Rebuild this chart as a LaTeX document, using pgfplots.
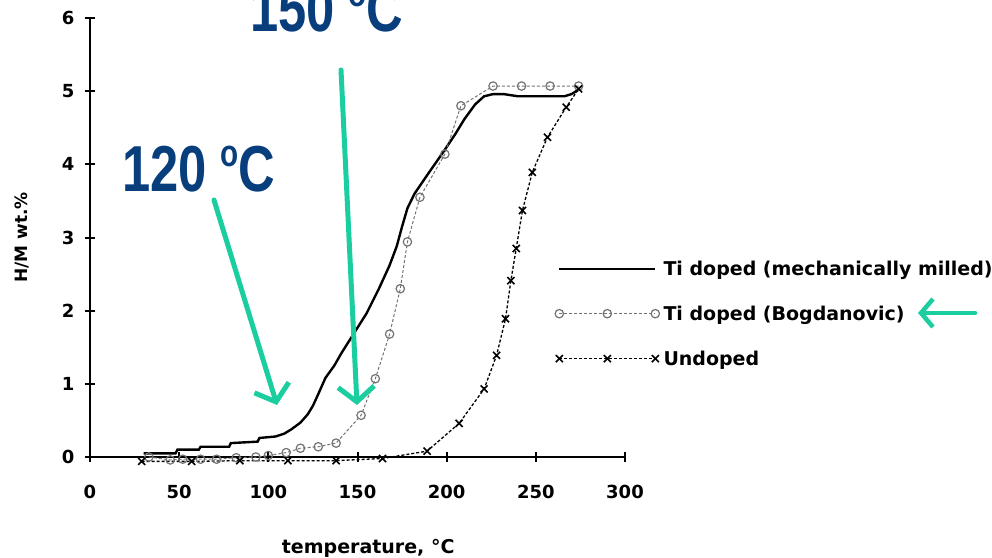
\documentclass[border=0pt]{standalone}
\usepackage{pgfplots}
\pgfplotsset{compat=1.18}
\usepackage{fontspec}
\setmainfont{DejaVu Sans}
\newfontfamily\annfont{Liberation Sans}
\usetikzlibrary{arrows.meta}
\definecolor{ann}{RGB}{8,62,124}
\definecolor{tealarrow}{RGB}{26,206,160}
\pgfplotsset{
  threemark legend/.style={legend image code/.code={\draw[##1] plot coordinates {(0pt,0pt) (48pt,0pt) (96pt,0pt)};}},
  plain legend/.style={legend image code/.code={\draw[##1] (0pt,0pt) -- (96pt,0pt);}},
}
\newcommand{\degsup}{\raisebox{25pt}{\fontsize{38}{40}\selectfont o}}
\begin{document}
\begin{tikzpicture}
\useasboundingbox (0,0) rectangle (992pt,557pt);
\begin{axis}[
  at={(90pt,100pt)}, anchor=south west,
  scale only axis, width=535pt, height=439pt,
  xmin=0, xmax=300, ymin=0, ymax=6,
  clip=false,
  axis x line=bottom, axis y line=left,
  axis line style={-, line width=2.2pt},
  xtick={0,50,...,300}, ytick={0,1,...,6},
  tick align=center, major tick length=10pt,
  every tick/.style={black, line width=2pt},
  /pgf/number format/assume math mode=true,
  tick label style={font=\fontsize{18}{20}\selectfont\bfseries},
  xticklabel style={yshift=-20pt},
  yticklabel style={xshift=-7pt},
  xlabel={temperature, \textdegree C},
  xlabel style={at={(axis description cs:0.52,-0.2073)}, anchor=center, font=\fontsize{19}{22}\selectfont\bfseries},
  ylabel={H/M wt.\%},
  ylabel style={at={(axis description cs:-0.127,0.5)}, anchor=center, font=\fontsize{17}{20}\selectfont\bfseries},
  legend style={at={(axis description cs:0.869,0.452)}, anchor=north west, draw=none, fill=none,
    font=\fontsize{19}{22}\selectfont\bfseries, row sep=25pt, inner sep=0pt,
    /tikz/every odd column/.append style={column sep=2pt}},
  legend cell align=left,
]
\addplot[black, line width=2.4pt, no markers, plain legend]
coordinates {
(30,0.05) (48,0.05) (49,0.1) (61,0.1) (62,0.14) (78,0.14) (79,0.19) (94,0.21) (95,0.26)
(104,0.28) (109,0.32) (113,0.38) (118,0.47) (122,0.58) (125,0.7) (128,0.86) (132,1.08)
(137,1.25) (141,1.42) (148,1.69) (155,1.96) (162,2.3) (168,2.62) (172,2.88) (175,3.15)
(178,3.4) (182,3.6) (189,3.85) (199,4.2) (205,4.42) (210,4.62) (216,4.82) (221,4.93)
(226,4.96) (232,4.96) (240,4.93) (266,4.93) (270,4.96) (274,5.02)
};
\addlegendentry{Ti doped (mechanically milled)}
\addplot[black!55, densely dashed, line width=1pt, mark=o, mark size=4.2pt,
  mark options={solid, line width=1.2pt, fill=white}, threemark legend]
coordinates {
(33,0.0) (45,-0.04) (52,-0.03) (62,-0.03) (71,-0.03) (82,-0.01) (93,0.0) (100,0.02)
(110,0.06) (118,0.12) (128,0.14) (138,0.19) (152,0.57) (160,1.07) (168,1.68) (174,2.3)
(178,2.94) (185,3.55) (199,4.14) (208,4.8) (226,5.07) (242,5.07) (258,5.07) (274,5.07)
};
\addlegendentry{Ti doped (Bogdanovic)}
\addplot[black, densely dashed, line width=1.3pt, mark=x, mark size=5pt,
  mark options={solid, line width=1.6pt}, threemark legend]
coordinates {
(29,-0.06) (57,-0.06) (84,-0.05) (111,-0.05) (138,-0.05) (164,-0.02) (189,0.08)
(207,0.46) (221,0.93) (228,1.39) (233,1.89) (236,2.41) (239,2.85) (242.5,3.37)
(248,3.89) (256.5,4.37) (267,4.78) (274,5.03)
};
\addlegendentry{Undoped}
\end{axis}
\node[anchor=base west, text=ann, inner sep=0pt] at (122pt,365pt)
  {\scalebox{0.78}[1]{\annfont\bfseries\fontsize{65}{70}\selectfont 120 \degsup C}};
\node[anchor=base west, text=ann, inner sep=0pt] at (250pt,525pt)
  {\scalebox{0.78}[1]{\annfont\bfseries\fontsize{65}{70}\selectfont 150 \degsup C}};
\draw[tealarrow, line width=5pt, line cap=round,
  -{Straight Barb[length=15pt,width=36pt,line width=5pt]}] (214pt,357pt) -- (277pt,152pt);
\draw[tealarrow, line width=5pt, line cap=round,
  -{Straight Barb[length=15pt,width=36pt,line width=5pt]}] (341pt,487pt) -- (357pt,152pt);
\draw[tealarrow, line width=4.5pt, line cap=round,
  -{Straight Barb[length=12pt,width=28pt,line width=4.5pt]}] (975pt,244pt) -- (918pt,244pt);
\end{tikzpicture}
\end{document}
